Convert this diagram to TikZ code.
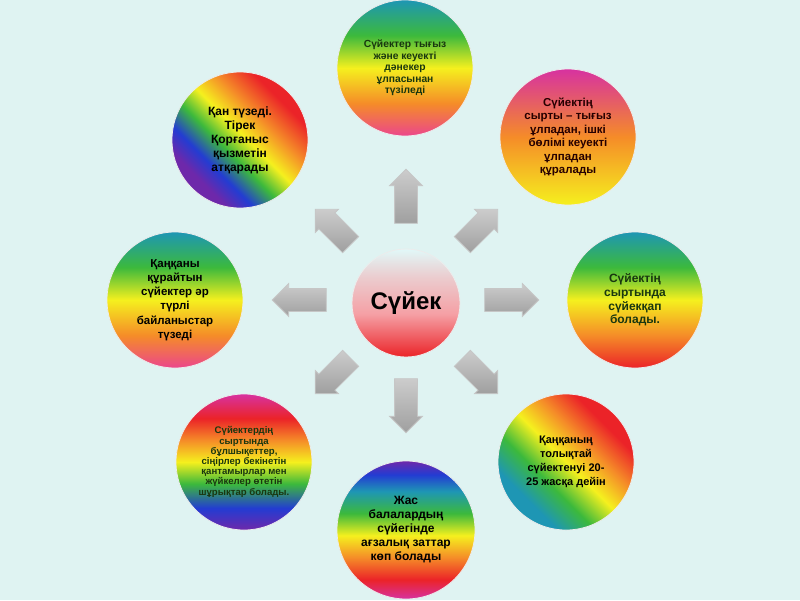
\documentclass[tikz,border=0pt]{standalone}
\usepackage{fontspec}
\setmainfont{Liberation Sans}
\usetikzlibrary{shapes.arrows}
\definecolor{bg}{RGB}{223,243,242}
\definecolor{cTeal}{RGB}{30,150,180}
\definecolor{cGreen}{RGB}{60,185,60}
\definecolor{cYellow}{RGB}{245,240,30}
\definecolor{cOrange}{RGB}{245,140,40}
\definecolor{cPink}{RGB}{235,70,140}
\definecolor{cRed}{RGB}{235,35,40}
\definecolor{cMag}{RGB}{215,50,160}
\definecolor{cBlue}{RGB}{35,60,210}
\definecolor{cPurple}{RGB}{110,40,170}
\definecolor{cLCyan}{RGB}{225,248,248}
\definecolor{cLPink}{RGB}{245,160,165}
\definecolor{txtgreen}{RGB}{25,55,15}
\pgfdeclareverticalshading{rainA}{100bp}{color(0bp)=(cPink); color(25bp)=(cPink); color(37bp)=(cOrange); color(50bp)=(cYellow); color(62bp)=(cGreen); color(75bp)=(cTeal); color(100bp)=(cTeal)}
\pgfdeclareverticalshading{rainD}{100bp}{color(0bp)=(cRed); color(25bp)=(cRed); color(37bp)=(cOrange); color(50bp)=(cYellow); color(62bp)=(cGreen); color(75bp)=(cTeal); color(100bp)=(cTeal)}
\pgfdeclareverticalshading{rainB}{100bp}{color(0bp)=(cPurple); color(29bp)=(cPurple); color(36bp)=(cBlue); color(44bp)=(cGreen); color(52bp)=(cYellow); color(61bp)=(cOrange); color(71bp)=(cRed); color(100bp)=(cRed)}
\pgfdeclareverticalshading{rainC}{100bp}{color(0bp)=(cYellow); color(25bp)=(cYellow); color(50bp)=(cOrange); color(75bp)=(cMag); color(100bp)=(cMag)}
\pgfdeclareverticalshading{rainE}{100bp}{color(0bp)=(cPurple); color(25bp)=(cPurple); color(33bp)=(cBlue); color(42bp)=(cGreen); color(50bp)=(cYellow); color(58bp)=(cOrange); color(66bp)=(cRed); color(75bp)=(cMag); color(100bp)=(cMag)}
\pgfdeclareverticalshading{rainF}{100bp}{color(0bp)=(cTeal); color(30bp)=(cTeal); color(40bp)=(cGreen); color(50bp)=(cYellow); color(60bp)=(cOrange); color(70bp)=(cRed); color(100bp)=(cRed)}
\pgfdeclareverticalshading{rainG}{100bp}{color(0bp)=(cMag); color(25bp)=(cMag); color(32bp)=(cRed); color(40bp)=(cOrange); color(48bp)=(cYellow); color(56bp)=(cGreen); color(64bp)=(cTeal); color(70bp)=(cBlue); color(75bp)=(cPurple); color(100bp)=(cPurple)}
\pgfdeclareverticalshading{centre}{100bp}{color(0bp)=(cRed); color(25bp)=(cRed); color(45bp)=(cLPink); color(62bp)=(cLPink!50!cLCyan); color(75bp)=(cLCyan); color(100bp)=(cLCyan)}
\begin{document}
\begin{tikzpicture}[x=1pt,y=-1pt,
  bubble/.style={circle,minimum size=136pt,inner sep=0pt,align=center,draw=white!85!gray,line width=0.8pt},
  barrow/.style={single arrow,single arrow head extend=5pt,inner xsep=0pt,inner ysep=11pt,
    minimum height=54pt,draw=gray!45,line width=0.8pt,top color=gray!40,bottom color=gray!75}]
\fill[bg] (0,0) rectangle (800,600);
\useasboundingbox (0,0) rectangle (800,600);
% diagonal rainbow discs (red towards the upper right)
\shade[shading=rainB,shading angle=-45] (240,140) circle (68pt);
\shade[shading=rainF,shading angle=-45] (566,462) circle (68pt);
% circles
\node[bubble,shading=rainA,font=\fontsize{10.3}{11.6}\selectfont\bfseries,text=txtgreen] (top) at (405,68)
  {Сүйектер тығыз\\және кеуекті\\дәнекер\\ұлпасынан\\түзіледі};
\node[bubble,font=\fontsize{12}{14}\selectfont\bfseries] (tl) at (240,140)
  {Қан түзеді.\\Тірек\\Қорғаныс\\қызметін\\атқарады};
\node[bubble,shading=rainC,font=\fontsize{11.5}{13.5}\selectfont\bfseries,text=black!85!red] (tr) at (568,137)
  {Сүйектің\\сырты – тығыз\\ұлпадан, ішкі\\бөлімі кеуекті\\ұлпадан\\құралады};
\node[bubble,shading=rainA,font=\fontsize{11.5}{14.2}\selectfont\bfseries] (lf) at (175,300)
  {Қаңқаны\\құрайтын\\сүйектер әр\\түрлі\\байланыстар\\түзеді};
\node[bubble,shading=rainD,font=\fontsize{12}{13.7}\selectfont\bfseries,text=txtgreen] (rt) at (635,300)
  {Сүйектің\\сыртында\\сүйекқап\\болады.};
\node[bubble,shading=rainE,font=\fontsize{9.6}{10.2}\selectfont\bfseries,text=txtgreen] (bl) at (244,462)
  {Сүйектердің\\сыртында\\бұлшықеттер,\\сіңірлер бекінетін\\қантамырлар мен\\жүйкелер өтетін\\шұрықтар болады.};
\node[bubble,font=\fontsize{11}{14}\selectfont\bfseries] (br) at (566,462)
  {Қаңқаның\\толықтай\\сүйектенуі 20-\\25 жасқа дейін};
\node[bubble,shading=rainG,minimum size=138pt,font=\fontsize{12}{14}\selectfont\bfseries] (bt) at (406,530)
  {Жас\\балалардың\\сүйегінде\\ағзалық заттар\\көп болады};
\node[bubble,shading=centre,minimum size=108pt,font=\fontsize{24}{28}\selectfont\bfseries] (c) at (406,303) {Сүйек};
% arrows
\node[barrow,rotate=90] (aU) at (406,202) {};
\node[barrow,rotate=-90] (aD) at (406,400) {};
\node[barrow,rotate=180] (aL) at (305,300) {};
\node[barrow] (aR) at (506,300) {};
\node[barrow,rotate=135,minimum height=50pt] (aUL) at (337,231) {};
\node[barrow,rotate=45,minimum height=50pt] (aUR) at (476,231) {};
\node[barrow,rotate=225,minimum height=50pt] (aDL) at (337,372) {};
\node[barrow,rotate=-45,minimum height=50pt] (aDR) at (476,372) {};
\end{tikzpicture}
\end{document}
